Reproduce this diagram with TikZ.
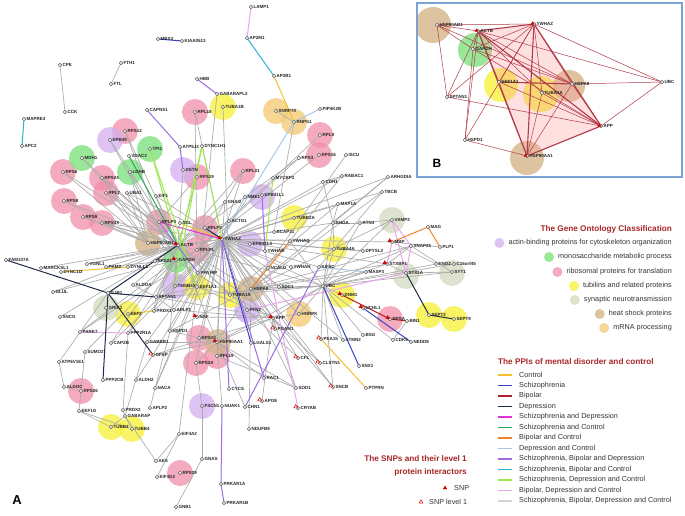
\documentclass[tikz,border=0pt]{standalone}
\usepackage{fontspec}
\setmainfont{Liberation Sans}
\usetikzlibrary{shapes.geometric}
\definecolor{cCtrl}{HTML}{F2C12E}
\definecolor{cSz}{HTML}{3545C0}
\definecolor{cBp}{HTML}{B01E24}
\definecolor{cDp}{HTML}{1E2B48}
\definecolor{cSD}{HTML}{E030D8}
\definecolor{cSC}{HTML}{2EA85A}
\definecolor{cBC}{HTML}{F08428}
\definecolor{cDC}{HTML}{A8C8E8}
\definecolor{cSBD}{HTML}{9C6EE0}
\definecolor{cSBC}{HTML}{28B4D8}
\definecolor{cSDC}{HTML}{A0E850}
\definecolor{cBDC}{HTML}{E8A8EC}
\definecolor{cSBDC}{HTML}{D4D4D4}
\definecolor{cGray}{HTML}{ABABAB}
\definecolor{gAct}{HTML}{D2AEF0}
\definecolor{gMono}{HTML}{80E280}
\definecolor{gRibo}{HTML}{F290AA}
\definecolor{gTub}{HTML}{F8F040}
\definecolor{gSyn}{HTML}{D6DCC4}
\definecolor{gHeat}{HTML}{D6B48A}
\definecolor{gMrna}{HTML}{F5CC7A}
\definecolor{cIn}{HTML}{B03A48}
\definecolor{cTitle}{HTML}{A82828}
\definecolor{cBox}{HTML}{7BA4D4}
\tikzset{
 pt/.style={circle,draw=black!70,line width=0.35pt,fill=white,minimum size=3.6pt,inner sep=0pt,
   path picture={\fill[black!80] (path picture bounding box.center) circle (0.5pt);}},
 lbl/.style={font=\fontsize{4.5}{5}\selectfont\bfseries,inner sep=0.3pt,text=black!85},
 ge/.style={draw=cGray,line width=0.65pt},
 ce/.style={line width=1pt},
 ie/.style={draw=cIn,line width=0.5pt},
 ieb/.style={draw=cIn,line width=1.1pt},
 snp/.style={regular polygon,regular polygon sides=3,fill=red!85!black,draw=red!85!black,line width=0.3pt,inner sep=0pt,minimum size=4.2pt},
 snpo/.style={regular polygon,regular polygon sides=3,fill=white,draw=red!85!black,line width=0.5pt,inner sep=0pt,minimum size=4.2pt},
 legt/.style={font=\fontsize{7.25}{8}\selectfont,inner sep=1pt,text=black!80},
 legh/.style={font=\fontsize{8.2}{9}\selectfont\bfseries,inner sep=1pt,text=cTitle},
 cR/.style={fill=gRibo,fill opacity=0.75},
 cG/.style={fill=gMono,fill opacity=0.8},
 cA/.style={fill=gAct,fill opacity=0.75},
 cT/.style={fill=gTub,fill opacity=0.8},
 cS/.style={fill=gSyn,fill opacity=0.8},
 cH/.style={fill=gHeat,fill opacity=0.8},
 cM/.style={fill=gMrna,fill opacity=0.8},
}
\def\nodelist{MBX3/158/39,KIAA0513/182/41,CPE/60/65,CCK/65/112,FTH1/121/63,FTL/111/84,MAPRE3/24/119,APC2/22/146,
HBB/197/79,GABARAPL2/217/94,TUBA1B/223/107,CAPNS1/147/110,ATP5J2/180/147,RPL18/195/112,RPS12/125/131,EPB49/110/140,
TPI1/150/149,MDH1/82/158,VDAC3/129/156,LDHB/130/172,RPS6/63/172,RPS24/102/178,DYNC1H1/202/146,DSTN/183/170,RPS19/197/177,
LAMP1/251/7,AP2M1/247/38,AP2B1/274/76,SNRP70/276/111,RNPS1/294/122,PIP4K2B/320/109,RPL9/320/135,RPS16/319/155,
RPS3/299/158,ISCU/346/155,RPL31/243/171,MYCBP2/273/178,RABAC1/342/176,CDH1/323/182,ARHGDIA/388/177,TBCB/382/192,
RPL7/106/193,UBA1/127/193,RPS8/64/201,RPS9/83/217,RPS4X/102/223,EIF1/156/196,RPLP0/159/222,NCL/180/223,RPLP2/205/228,
YWHAZ/222/239,HSP90AB1/148/243,ACTB/178/245,RPLP1/197/250,GAPDH/176/260,RPS21/155/261,FAM107A/6/260,MARCKSL1/41/268,
VGNL1/87/264,DYNC1I2/61/272,PKM2/106/267,DYNLL1/128/267,PHYHIP/198/273,TMSB4X/175/286,EEF1A1/197/287,GJB1/108/293,
ALDOA/133/285,GLUL/53/292,SPTAN1/156/297,GRIA1/106/308,EEF2/128/314,PRDX1/154/311,APLP1/174/310,SNCG/60/317,NSF/197/317,
PARK7/80/332,PPP2R1A/128/333,HSPD1/170/331,CAPZB/111/343,GABBR1/147/342,RPS10/199/338,HSP90AA1/217/342,
NME1/245/197,EPB41L1/262/195,GNAI2/225/202,MAP1A/338/204,ACTG1/229/221,TUBB2A/294/218,RHOA/333/223,RTN4/360/223,
VAMP2/392/220,BCAP31/274/232,EPB41L3/250/244,YWHAQ/290/241,YWHAB/265/251,TUBA4A/334/249,DPYSL2/363/251,MBP/392/242,
SNAP25/411/246,MAG/428/227,PLP1/440/247,KIF5C/319/267,NCALD/268/268,YWHAH/291/267,MASP3/366/272,STXBP1/387/264,
STX1A/406/273,ENO2/436/264,C16orf45/454/264,SYT1/452/272,HSPA8/251/289,SDC1/279/287,UBC/323/286,DNM1/342/295,
TUBA1A/230/295,PFN2/247/310,APP/273/318,HNRPK/299/314,UCHL1/363/308,RPSA/390/319,BIN1/407/321,SEPT2/429/315,
SEPT9/454/319,PGAM1/275/329,LGALS1/251/343,PEA15/321/339,STMN2/343/340,BSG/363/335,CDK5/393/340,NEDD8/411/342,
SUMO2/85/352,ATP6V1E1/59/362,PPP2CB/103/380,ALDOC/64/387,RPS26/81/391,ALDH2/136/380,GFAP/153/355,NACA/155/388,
EEF1G/79/411,PRDX2/123/410,GABARAP/125/416,APLP2/150/408,TUBB2/111/427,TUBB4/132/429,EIF4A2/179/434,AES/156/461,
EIF4G2/157/477,RPS29/180/473,GNB1/176/507,GNAS/202/459,FSCN1/202/406,NUAK1/222/406,RPS3A/196/363,RPL19/217/356,
CFL/298/358,CLSTN1/320/363,SNX1/359/366,PTPRN/366/388,SNCB/333/387,RAC1/264/378,SOD1/296/388,CYCS/229/389,
APOE/262/401,CHN1/245/407,CRYAB/298/408,NDUFB8/249/429,PRKAR1A/221/484,PRKAR1B/224/503}
\def\insetlist{bHSP90AB1/437/25/HSP90AB1,bACTB/478/31/ACTB,bGAPDH/473/49/GAPDH,bYWHAZ/534/24/YWHAZ,
bEEF1A1/499/82/EEF1A1,bTUBA1A/542/93/TUBA1A,bHSPA8/572/84/HSPA8,bUBC/662/82/UBC,bSPTAN1/447/97/SPTAN1,
bAPP/601/126/APP,bHSPD1/465/140/HSPD1,bHSP90AA1/527/156/HSP90AA1}
\begin{document}
\begin{tikzpicture}[x=1pt,y=-1pt]
\useasboundingbox (0,0) rectangle (685,516);
\fill[white] (0,0) rectangle (685,516);
% ---------- positions ----------
\foreach \n/\x/\y in \nodelist {\coordinate (\n) at (\x,\y);}
\foreach \n/\x/\y/\l in \insetlist {\coordinate (\n) at (\x,\y);}
% ---------- GO circles (network) ----------
\foreach \p in {{125,131},{195,112},{63,172},{102,178},{106,193},{64,201},{83,217},{102,223},{197,177},{243,171},{320,135},{319,155},{159,222},{205,228},{197,250},{199,338},{217,356},{196,363},{81,391},{180,473},{390,319}}
  \fill[cR] (\p) circle (13);
\foreach \p in {{82,158},{150,149},{130,172},{176,260}} \fill[cG] (\p) circle (13);
\foreach \p in {{110,140},{183,170},{175,286},{262,197},{250,244},{247,310},{202,406}} \fill[cA] (\p) circle (13);
\foreach \p in {{223,107},{294,218},{334,249},{230,295},{197,287},{128,314},{342,295},{429,315},{454,319},{111,427},{132,429}} \fill[cT] (\p) circle (13);
\foreach \p in {{392,220},{406,276},{452,273},{106,308}} \fill[cS] (\p) circle (13);
\foreach \p in {{148,243},{251,289},{218,342}} \fill[cH] (\p) circle (13);
\foreach \p in {{276,111},{294,122},{299,314}} \fill[cM] (\p) circle (13);
% ---------- edges ----------
\foreach \a/\b in {CPE/CCK,FTH1/FTL,
RPS6/HSP90AB1,RPS6/ACTB,RPS24/HSP90AB1,RPS24/ACTB,RPL7/ACTB,RPL7/HSP90AB1,RPL7/RPLP0,RPS8/HSP90AB1,RPS8/ACTB,
RPS9/HSP90AB1,RPS9/ACTB,RPS4X/HSP90AB1,RPS4X/ACTB,RPS4X/YWHAZ,RPS12/RPLP0,RPS12/ACTB,EPB49/ACTB,EPB49/GAPDH,
MDH1/GAPDH,MDH1/ACTB,LDHB/GAPDH,LDHB/HSP90AB1,UBA1/ACTB,UBA1/YWHAZ,UBA1/HSP90AB1,EIF1/ACTB,EIF1/YWHAZ,
RPL18/RPLP1,RPL18/YWHAZ,RPS19/RPLP0,RPS19/ACTB,RPL31/YWHAZ,RPL31/RPLP1,RPL31/ACTB,TUBA1B/TUBA1A,GABARAPL2/EEF1A1,
RPL9/RPLP1,RPS16/RPLP1,RPS3/RPLP1,RPS3/ACTB,ISCU/HSPA8,RNPS1/SNRP70,RNPS1/BCAP31,RABAC1/CDH1,RABAC1/YWHAZ,
RABAC1/HSPA8,CDH1/YWHAZ,CDH1/RHOA,ARHGDIA/RHOA,ARHGDIA/YWHAZ,TBCB/TUBA4A,TBCB/YWHAZ,
ACTB/YWHAZ,ACTB/GAPDH,ACTB/HSP90AB1,ACTB/HSP90AA1,ACTB/HSPA8,ACTB/EEF1A1,ACTB/TUBA1A,ACTB/SPTAN1,ACTB/APP,ACTB/UBC,
ACTB/TMSB4X,ACTB/DYNLL1,ACTB/ALDOA,ACTB/PKM2,ACTB/VGNL1,ACTB/MARCKSL1,ACTB/GLUL,ACTB/SNCG,ACTB/PHYHIP,ACTB/CFL,
ACTB/ACTG1,ACTB/RPS21,ACTB/DSTN,ACTB/GNAI2,ACTB/PRDX1,ACTB/CAPZB,
YWHAZ/HSPA8,YWHAZ/UBC,YWHAZ/APP,YWHAZ/HSP90AA1,YWHAZ/TUBA1A,YWHAZ/EEF1A1,YWHAZ/GAPDH,YWHAZ/YWHAQ,YWHAZ/YWHAB,
YWHAZ/YWHAH,YWHAZ/NCALD,YWHAZ/EPB41L3,YWHAZ/BCAP31,YWHAZ/MAP1A,YWHAZ/RHOA,YWHAZ/TUBA4A,YWHAZ/DPYSL2,YWHAZ/KIF5C,
YWHAZ/TUBB2A,YWHAZ/GNAI2,YWHAZ/ACTG1,YWHAZ/NME1,YWHAZ/SDC1,YWHAZ/PFN2,YWHAZ/RPS3A,YWHAZ/RPL19,YWHAZ/HNRPK,
YWHAZ/PGAM1,YWHAZ/NSF,YWHAZ/APLP1,YWHAZ/PRDX1,YWHAZ/CLSTN1,YWHAZ/SNCB,YWHAZ/STMN2,YWHAZ/MBP,YWHAZ/STXBP1,
YWHAZ/SPTAN1,YWHAZ/HSPD1,YWHAZ/RPLP1,YWHAZ/PHYHIP,YWHAZ/TMSB4X,YWHAZ/RPS10,YWHAZ/GFAP,YWHAZ/NACA,YWHAZ/PPP2R1A,
YWHAZ/CAPZB,YWHAZ/GABBR1,YWHAZ/SOD1,YWHAZ/PARK7,YWHAZ/VGNL1,
HSP90AA1/APP,HSP90AA1/HSPA8,HSP90AA1/UBC,HSP90AA1/RPS10,HSP90AA1/RPS3A,HSP90AA1/RPL19,HSP90AA1/SOD1,HSP90AA1/RAC1,
HSP90AA1/NUAK1,HSP90AA1/GFAP,HSP90AA1/HSPD1,HSP90AA1/GABBR1,HSP90AA1/CHN1,
HSPA8/UBC,HSPA8/APP,HSPA8/TUBA1A,HSPA8/SDC1,HSPA8/ARHGDIA,HSPA8/TBCB,HSPA8/VAMP2,HSPA8/SNAP25,HSPA8/HSPD1,
HSPA8/STXBP1,HSPA8/MASP3,HSPA8/NDUFB8,
UBC/DNM1,UBC/STXBP1,UBC/SYT1,UBC/ENO2,UBC/C16orf45,UBC/MASP3,UBC/BSG,UBC/STMN2,UBC/PEA15,UBC/HNRPK,UBC/APP,
UBC/TUBA4A,UBC/RHOA,UBC/RTN4,UBC/VAMP2,UBC/SDC1,UBC/CDK5,UBC/SNAP25,UBC/YWHAQ,UBC/SPTAN1,UBC/TUBA1A,UBC/SNCB,
APP/PGAM1,APP/SOD1,APP/CFL,APP/CLSTN1,APP/SNCB,APP/APOE,APP/NSF,APP/HNRPK,APP/GFAP,APP/TUBA1A,APP/SPTAN1,
APP/APLP1,APP/EEF1A1,
EEF1A1/TUBA1A,EEF1A1/SPTAN1,EEF1A1/NACA,EEF1A1/EIF4A2,
SPTAN1/ALDOA,SPTAN1/PRDX1,SPTAN1/APLP1,SPTAN1/GAPDH,
GAPDH/HSPD1,GAPDH/TUBA1A,GAPDH/PKM2,GAPDH/PARK7,GAPDH/PPP2R1A,GAPDH/SUMO2,GAPDH/GLUL,
TUBA4A/DPYSL2,TUBA4A/KIF5C,TUBA4A/RHOA,MAP1A/RHOA,RHOA/RTN4,RTN4/VAMP2,MAP1A/TUBA1A,
STX1A/STXBP1,STX1A/SYT1,SNAP25/SYT1,SNAP25/STXBP1,ENO2/MBP,MBP/PLP1,BIN1/CDK5,
HSPD1/APLP2,ATP6V1E1/ALDOC,ATP6V1E1/GJB1,SUMO2/RPS26,ALDOC/RPS26,EEF1G/RPS26,EEF1G/TUBB2,EEF1G/TUBB4,
PRDX2/PPP2R1A,PRDX2/GABARAP,GABARAP/TUBB2,GABARAP/TUBB4,GABARAP/AES,GABARAP/GABBR1,AES/EIF4A2,EIF4G2/EIF4A2,
GNB1/GNAS,GNAS/FSCN1,FSCN1/RPS3A,ALDH2/GFAP,SOD1/RPL19}
  {\draw[ge] (\a) -- (\b);}
\foreach \a/\b in {AP2M1/AP2B1,MAPRE3/APC2} {\draw[ce,cSBC] (\a) -- (\b);}
\foreach \a/\b in {LAMP1/AP2M1,PARK7/PPP2R1A,YWHAB/CRYAB,VAMP2/SNAP25,VAMP2/STX1A,SNAP25/STX1A,STX1A/PFN2,MBP/STXBP1} {\draw[ce,cBDC] (\a) -- (\b);}
\foreach \a/\b in {AP2B1/RNPS1,DYNC1I2/DYNLL1,PEA15/PTPRN,NCL/YWHAZ,EEF2/PRDX1} {\draw[ce,cCtrl] (\a) -- (\b);}
\foreach \a/\b in {MBP/MAG,MAG/PLP1,YWHAQ/HSPA8} {\draw[ce,cBC] (\a) -- (\b);}
\foreach \a/\b in {YWHAZ/LGALS1,UBC/SNX1,UCHL1/NEDD8,MBX3/KIAA0513} {\draw[ce,cSz] (\a) -- (\b);}
\foreach \a/\b in {FAM107A/GJB1,GJB1/SPTAN1,GJB1/PPP2CB,GJB1/GFAP,GJB1/ACTB,STX1A/SEPT2,SEPT2/SEPT9,YWHAZ/RPLP2} {\draw[ce,cDp] (\a) -- (\b);}
\foreach \a/\b in {DNM1/RPSA,RPSA/BIN1} {\draw[ce,cBp] (\a) -- (\b);}
\draw[ce,cSD] (RPLP0) -- (YWHAZ);
\draw[ce,cSC] (VDAC3) -- (ACTB);
\foreach \a/\b in {DYNC1H1/GAPDH,DYNC1H1/YWHAZ,TPI1/ACTB,TPI1/EEF1A1,MYCBP2/YWHAB,DYNC1H1/TMSB4X} {\draw[ce,cSDC] (\a) -- (\b);}
\foreach \a/\b in {RNPS1/PIP4K2B,RNPS1/YWHAZ,MASP3/KIF5C} {\draw[ce,cDC] (\a) -- (\b);}
\foreach \a/\b in {CAPNS1/ATP5J2,ATP5J2/DSTN,HBB/GABARAPL2,RPLP0/PHYHIP,NUAK1/PRKAR1A,PRKAR1A/PRKAR1B,KIF5C/CHN1,YWHAZ/CYCS,YWHAZ/RAC1,EPB41L1/YWHAB} {\draw[ce,cSBD] (\a) -- (\b);}
% ---------- node markers ----------
\foreach \n/\x/\y in \nodelist {\node[pt,label={[lbl,label distance=0.2pt]0:\n}] (m\n) at (\n) {};}
% ---------- SNP markers ----------
\foreach \n in {ACTB,YWHAZ,GAPDH,HSP90AA1,APP,NSF,DNM1,MBP,STXBP1,UCHL1,RPSA}
  \node[snp] (s\n) at ([shift={(-2.3pt,1.3pt)}]\n) {};
\foreach \n in {GFAP,CFL,CLSTN1,SNCB,APOE,CRYAB,PEA15,PGAM1}
  \node[snpo] (s\n) at ([shift={(-2.3pt,1.3pt)}]\n) {};
% ---------- inset B ----------
\begin{scope}
\clip (417,3) rectangle (682,177);
\fill[cH] (433,25) circle (18);
\fill[cG] (475,50) circle (17);
\fill[cT] (501,85) circle (17);
\fill[cT] (541,94) circle (18);
\fill[cH] (569,86) circle (16);
\fill[cH] (527,158) circle (17);
\fill[fill=red!40!white,fill opacity=0.3] (bACTB) -- (bYWHAZ) -- (bAPP) -- (bHSP90AA1) -- cycle;
\end{scope}
\foreach \a/\b in {bHSP90AB1/bACTB,bHSP90AB1/bYWHAZ,bHSP90AB1/bSPTAN1,bHSP90AB1/bGAPDH,bHSP90AB1/bHSPA8,
bACTB/bGAPDH,bACTB/bUBC,bACTB/bHSPA8,bACTB/bTUBA1A,bACTB/bEEF1A1,bACTB/bHSPD1,bACTB/bSPTAN1,
bYWHAZ/bGAPDH,bYWHAZ/bEEF1A1,bYWHAZ/bTUBA1A,bYWHAZ/bHSPA8,bYWHAZ/bUBC,bYWHAZ/bSPTAN1,bYWHAZ/bHSPD1,
bGAPDH/bHSPA8,bGAPDH/bHSPD1,bHSPA8/bUBC,bTUBA1A/bAPP,bTUBA1A/bHSP90AA1,bHSPA8/bAPP,bHSPA8/bHSP90AA1,
bSPTAN1/bAPP,bHSPD1/bHSP90AA1,bAPP/bUBC,bEEF1A1/bHSP90AA1,bGAPDH/bAPP,bEEF1A1/bAPP}
  {\draw[ie] (\a) -- (\b);}
\foreach \a/\b in {bACTB/bYWHAZ,bACTB/bHSP90AA1,bYWHAZ/bHSP90AA1,bYWHAZ/bAPP,bAPP/bHSP90AA1,bACTB/bAPP,bEEF1A1/bHSPA8}
  {\draw[ieb] (\a) -- (\b);}
\foreach \n/\x/\y/\l in \insetlist {\node[pt,label={[lbl,label distance=0.2pt]0:\l}] (m\n) at (\n) {};}
\foreach \n in {bACTB,bYWHAZ,bAPP,bHSP90AA1}
  \node[snp,minimum size=3.5pt] (s\n) at ([shift={(-1.5pt,0.5pt)}]\n) {};
\draw[cBox,line width=1.6pt] (417,3) rectangle (682,177);
\node[font=\fontsize{12}{12}\selectfont\bfseries,anchor=center] (labB) at (437,163) {B};
\node[font=\fontsize{13}{13}\selectfont\bfseries,anchor=center] (labA) at (17,500) {A};
% ---------- GO legend ----------
\node[legh,anchor=east] (goT) at (673,229) {The Gene Ontology Classification};
\foreach \i/\y/\t/\s in {1/243/actin-binding proteins for cytoskeleton organization/cA,
 2/257/monosaccharide metabolic process/cG,
 3/272/ribosomal proteins for translation/cR,
 4/286/tubilins and related proteins/cT,
 5/300/synaptic neurotransmission/cS,
 6/314/heat shock proteins/cH,
 7/328/mRNA processing/cM}{
 \node[legt,anchor=east] (go\i) at (673,\y) {\t};
 \fill[\s] ([xshift=-8pt]go\i.west) circle (5pt);
}
% ---------- PPI legend ----------
\node[legh,anchor=west] (ppT) at (497,362) {The PPIs of mental disorder and control};
\foreach \i/\y/\t/\c in {1/375/Control/cCtrl,2/385.5/Schizophrenia/cSz,3/396/Bipolar/cBp,4/406.5/Depression/cDp,
 5/417/Schizophrenia and Depression/cSD,6/427.5/Schizophrenia and Control/cSC,7/438/Bipolar and Control/cBC,
 8/448.5/Depression and Control/cDC,9/459/{Schizophrenia, Bipolar and Depression}/cSBD,
 10/469.5/{Schizophrenia, Bipolar and Control}/cSBC,11/480/{Schizophrenia, Depression and Control}/cSDC,
 12/490.5/{Bipolar, Depression and Control}/cBDC,13/501/{Schizophrenia, Bipolar, Depression and Control}/cSBDC}{
 \node[legt,anchor=west] (pp\i) at (518,\y) {\t};
 \coordinate (pa\i) at (498,\y); \coordinate (pb\i) at (512,\y);
 \draw[\c,line width=1.3pt] (pa\i) -- (pb\i);
}
% ---------- SNP legend ----------
\node[legh,anchor=east] (snT1) at (468,459) {The SNPs and their level 1};
\node[legh,anchor=east] (snT2) at (468,472) {protein interactors};
\node[legt,anchor=west] (snL1) at (453,488) {SNP};
\node[legt,anchor=west] (snL2) at (428,502) {SNP level 1};
\node[snp] (snM1) at (445,488) {};
\node[snpo] (snM2) at (421,502) {};
\end{tikzpicture}
\end{document}
